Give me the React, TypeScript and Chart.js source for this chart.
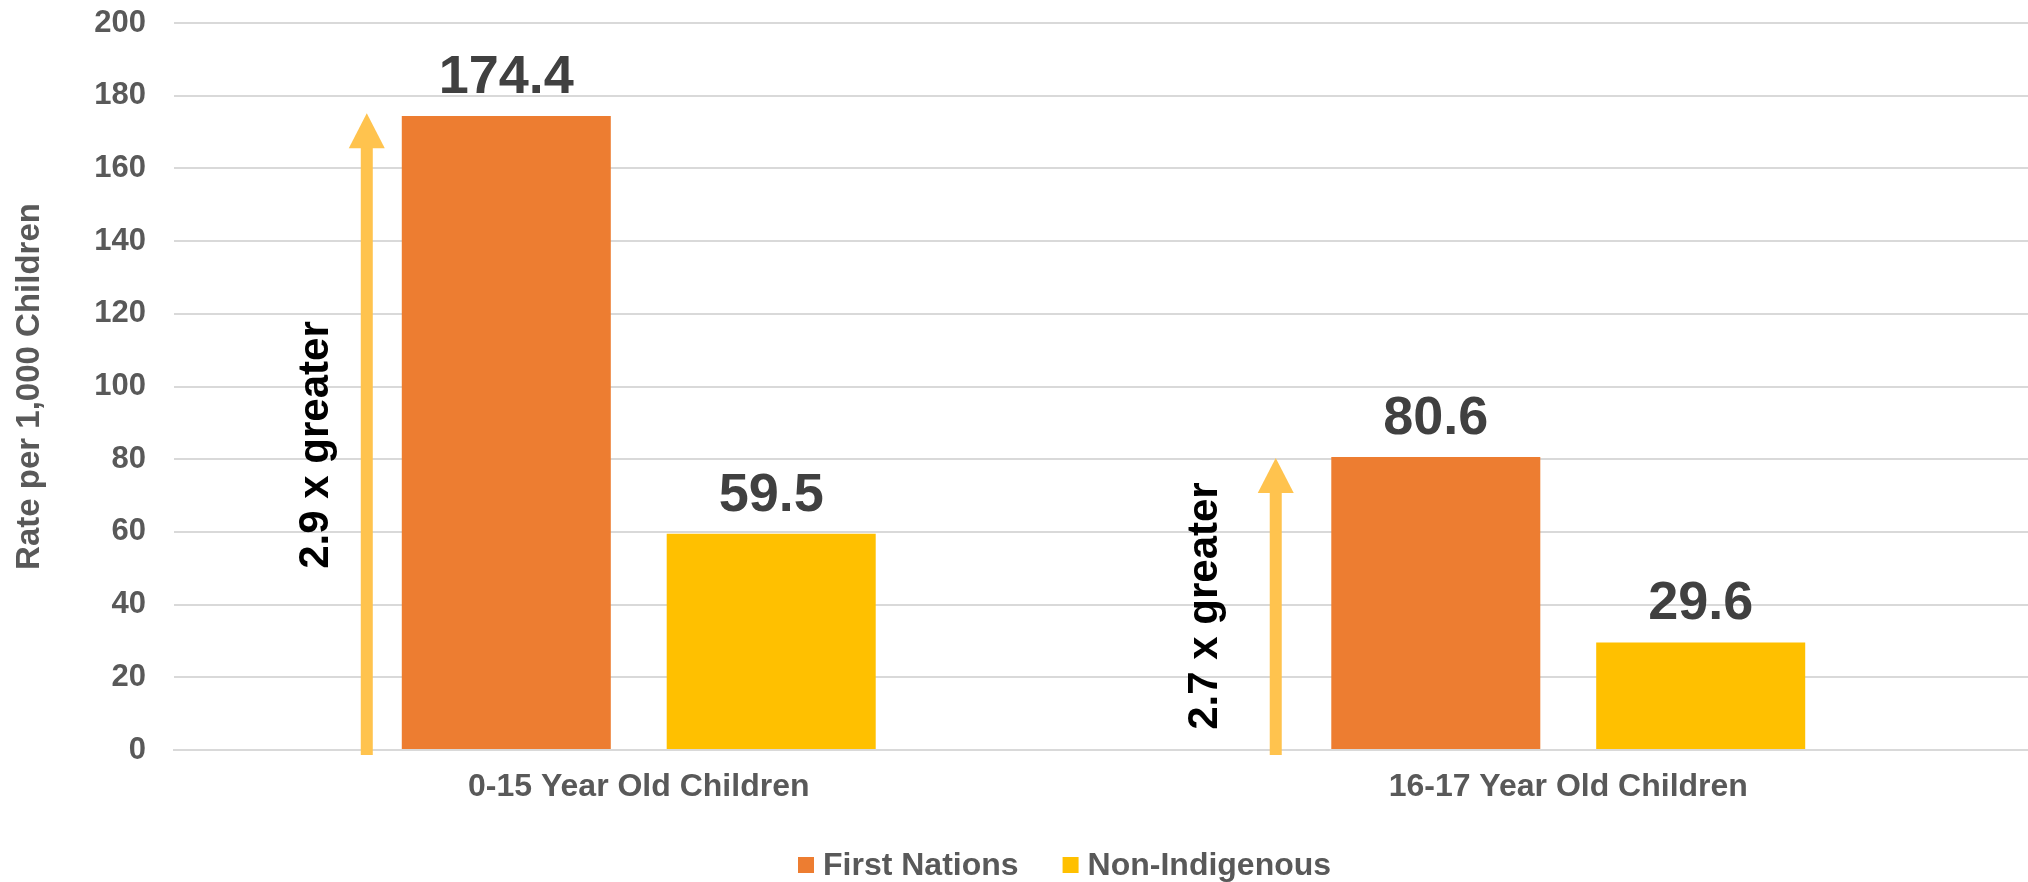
import React, { useEffect, useRef } from "react";
import { Chart, registerables } from "chart.js";

Chart.register(...registerables);

const categories = ["0-15 Year Old Children", "16-17 Year Old Children"];
const firstNations = [174.4, 80.6];
const nonIndigenous = [59.5, 29.6];
const seriesNames = ["First Nations", "Non-Indigenous"];
const ratioLabels = ["2.9 x greater", "2.7 x greater"];
const arrowTop = [175.2, 80.3];
const ratioTextCenter = [83.9, 39.6];
const yTicks = [0, 20, 40, 60, 80, 100, 120, 140, 160, 180, 200];

const FONT = "'Liberation Sans', Arial, Helvetica, sans-serif";
const ORANGE = "#ED7D31";
const YELLOW = "#FFC000";
const ARROW = "#FFC34E";
const GRID = "#d9d9d9";
const TEXT = "#595959";

// annotation placement as fraction of category width from the category centre
const arrowOffset = [-0.2926, -0.3147];
const textOffset = [-0.3464, -0.39];

const annotationPlugin = {
  id: "annot",
  afterDatasetsDraw(chart: any) {
    const ctx = chart.ctx;
    const x = chart.scales.x;
    const y = chart.scales.y;
    const catW = x.getPixelForValue(1) - x.getPixelForValue(0);
    // value labels
    ctx.save();
    ctx.font = `bold 54px ${FONT}`;
    ctx.fillStyle = "#404040";
    ctx.textAlign = "center";
    ctx.textBaseline = "alphabetic";
    chart.data.datasets.forEach((ds: any, di: number) => {
      const meta = chart.getDatasetMeta(di);
      meta.data.forEach((bar: any, i: number) => {
        ctx.fillText(Number(ds.data[i]).toFixed(1), bar.x, bar.y - 23);
      });
    });
    ctx.restore();

    // arrows + ratio texts
    categories.forEach((_, i) => {
      const cx = x.getPixelForValue(i);
      const ax = cx + arrowOffset[i] * catW;
      const tipY = y.getPixelForValue(arrowTop[i]);
      const baseY = y.getPixelForValue(0) + 5;
      const headH = 35;
      const headW = 36;
      const shaftW = 12;
      ctx.save();
      ctx.fillStyle = ARROW;
      ctx.fillRect(ax - shaftW / 2, tipY + headH - 1, shaftW, baseY - (tipY + headH - 1));
      ctx.beginPath();
      ctx.moveTo(ax, tipY);
      ctx.lineTo(ax + headW / 2, tipY + headH);
      ctx.lineTo(ax - headW / 2, tipY + headH);
      ctx.closePath();
      ctx.fill();
      ctx.restore();

      const tx = cx + textOffset[i] * catW;
      const ty = y.getPixelForValue(ratioTextCenter[i]);
      ctx.save();
      ctx.translate(tx, ty);
      ctx.rotate(-Math.PI / 2);
      ctx.font = `bold 42px ${FONT}`;
      ctx.fillStyle = "#000000";
      ctx.textAlign = "center";
      ctx.textBaseline = "middle";
      ctx.fillText(ratioLabels[i], 0, 0);
      ctx.restore();
    });

    // legend
    ctx.save();
    ctx.font = `bold 32px ${FONT}`;
    ctx.textBaseline = "middle";
    ctx.textAlign = "left";
    let lx = 798;
    const ly = 865;
    chart.data.datasets.forEach((ds: any) => {
      ctx.fillStyle = ds.backgroundColor;
      ctx.fillRect(lx, ly - 8, 16, 16);
      const tx = lx + 16 + 9;
      ctx.fillStyle = TEXT;
      ctx.fillText(ds.label, tx, ly + 1);
      lx = tx + ctx.measureText(ds.label).width + 44;
    });
    ctx.restore();
  },
};

export default function App() {
  const ref = useRef<HTMLCanvasElement | null>(null);
  useEffect(() => {
    document.body.style.margin = "0";
    if (!ref.current) return;
    const chart = new Chart(ref.current, {
      type: "bar",
      data: {
        labels: categories,
        datasets: [
          {
            label: seriesNames[0],
            data: firstNations,
            backgroundColor: ORANGE,
            categoryPercentage: 0.57,
            barPercentage: 0.789,
          },
          {
            label: seriesNames[1],
            data: nonIndigenous,
            backgroundColor: YELLOW,
            categoryPercentage: 0.57,
            barPercentage: 0.789,
          },
        ],
      },
      options: {
        animation: false,
        responsive: false,
        devicePixelRatio: 1,
        layout: { padding: { top: 23, right: 7, bottom: 0, left: 0 } },
        plugins: {
          legend: { display: false },
          tooltip: { enabled: false },
        },
        scales: {
          x: {
            grid: { display: false, drawTicks: false },
            border: { display: true, color: GRID, width: 2 },
            ticks: {
              padding: 18,
              color: TEXT,
              font: { family: FONT, size: 32, weight: "bold" },
            },
            afterFit: (s: any) => {
              s.height = 132;
              s.paddingLeft = 0;
              s.paddingRight = 0;
            },
          },
          y: {
            min: 0,
            max: 200,
            afterBuildTicks: (s: any) => {
              s.ticks = yTicks.map((v) => ({ value: v }));
            },
            grid: { color: GRID, lineWidth: 2, drawTicks: false },
            border: { display: false },
            ticks: {
              padding: 28,
              color: TEXT,
              font: { family: FONT, size: 31, weight: "bold" },
            },
            title: {
              display: true,
              text: "Rate per 1,000 Children",
              color: TEXT,
              font: { family: FONT, size: 33, weight: "bold" },
              padding: { top: 10, bottom: 0 },
            },
            afterFit: (s: any) => {
              s.width = 174;
              s.paddingTop = 0;
              s.paddingBottom = 0;
            },
          },
        },
      },
      plugins: [annotationPlugin],
    });
    return () => chart.destroy();
  }, []);
  return (
    <div style={{ width: 2028, height: 882, overflow: "hidden", position: "relative" }}>
      <canvas ref={ref} width={2040} height={882} style={{ display: "block" }} />
    </div>
  );
}
